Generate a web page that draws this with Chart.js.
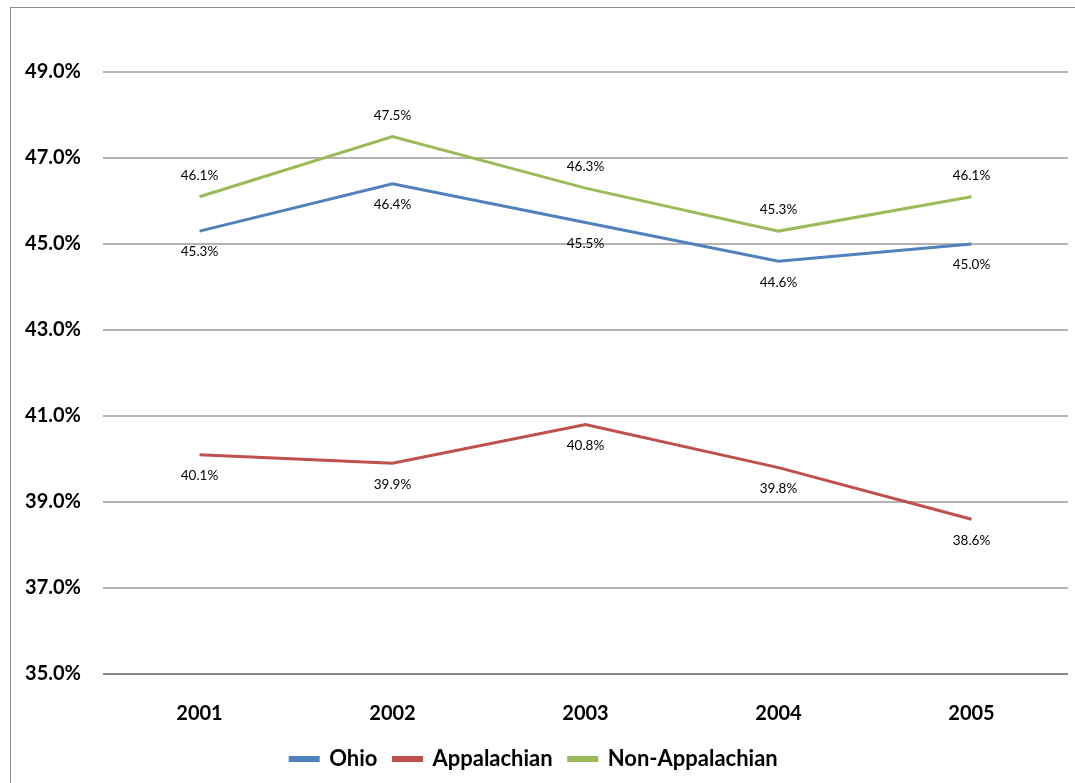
<!DOCTYPE html>
<html>
<head>
<meta charset="utf-8">
<script src="https://cdn.jsdelivr.net/npm/chart.js@4.4.0/dist/chart.umd.min.js"></script>
<style>
  html, body { margin: 0; padding: 0; background: #fff; }
  #wrap { position: relative; width: 1075px; height: 783px; }
</style>
</head>
<body>
<div id="wrap"><canvas id="chart"></canvas></div>
<script>
const years = ["2001", "2002", "2003", "2004", "2005"];
const ohio = [45.3, 46.4, 45.5, 44.6, 45.0];
const appalachian = [40.1, 39.9, 40.8, 39.8, 38.6];
const nonAppalachian = [46.1, 47.5, 46.3, 45.3, 46.1];
const yTicks = [35, 37, 39, 41, 43, 45, 47, 49];

const FONT = "Lato, 'Open Sans', 'Liberation Sans', sans-serif";

// where each series puts its value labels
const labelSide = { "Ohio": 1, "Appalachian": 1, "Non-Appalachian": -1 };

const pageFrame = {
    id: "pageFrame",
    beforeDraw(chart) {
        const ctx = chart.ctx;
        ctx.save();
        ctx.fillStyle = "#fff";
        ctx.fillRect(0, 0, chart.width, chart.height);
        ctx.strokeStyle = "#8c8c8c";
        ctx.lineWidth = 1;
        ctx.strokeRect(10.5, 7.5, 1200, 1000);
        ctx.restore();
    }
};

const valueLabels = {
    id: "valueLabels",
    afterDatasetsDraw(chart) {
        const ctx = chart.ctx;
        ctx.save();
        ctx.font = "13.5px " + FONT;
        ctx.fillStyle = "#000";
        ctx.textAlign = "center";
        ctx.textBaseline = "middle";
        chart.data.datasets.forEach((ds, i) => {
            const meta = chart.getDatasetMeta(i);
            const side = labelSide[ds.label];
            meta.data.forEach((pt, j) => {
                ctx.fillText(ds.data[j].toFixed(1) + "%", pt.x, pt.y + side * 21);
            });
        });
        ctx.restore();
    }
};

function series(label, data, color) {
    return {
        label, data,
        borderColor: color, backgroundColor: color,
        borderWidth: 3, pointRadius: 0, tension: 0,
    };
}

new Chart(document.getElementById("chart"), {
    type: "line",
    data: {
        labels: years,
        datasets: [
            series("Ohio", ohio, "#4f81bd"),
            series("Appalachian", appalachian, "#c0504d"),
            series("Non-Appalachian", nonAppalachian, "#9bbb59"),
        ],
    },
    plugins: [pageFrame, valueLabels],
    options: {
        responsive: true,
        maintainAspectRatio: false,
        animation: false,
        layout: { padding: { top: 29, right: 7, bottom: 3, left: 0 } },
        plugins: {
            tooltip: { enabled: false },
            legend: {
                position: "bottom",
                labels: {
                    boxWidth: 28, boxHeight: 3, padding: 16,
                    color: "#000",
                    font: { family: FONT, size: 22, weight: "bold" },
                },
            },
        },
        scales: {
            x: {
                offset: true,
                grid: { display: false, drawTicks: false },
                border: { display: false },
                ticks: { color: "#000", padding: 28, font: { family: FONT, size: 20, weight: "bold" } },
                afterFit(scale) { scale.height = 58; scale.paddingLeft = 0; scale.paddingRight = 0; },
            },
            y: {
                min: 35, max: 50,
                afterBuildTicks(scale) { scale.ticks = yTicks.map(v => ({ value: v })); },
                grid: {
                    drawTicks: false,
                    color: ctx => ctx.tick && ctx.tick.value === 35 ? "#868686" : "#b4b4b4",
                    lineWidth: 2,
                },
                border: { display: false },
                ticks: {
                    padding: 22,
                    color: "#000",
                    font: { family: FONT, size: 20, weight: "bold" },
                    callback: v => v.toFixed(1) + "%",
                },
                afterFit(scale) { scale.width = 103; scale.paddingTop = 0; scale.paddingBottom = 0; },
            },
        },
    },
});
</script>
</body>
</html>
